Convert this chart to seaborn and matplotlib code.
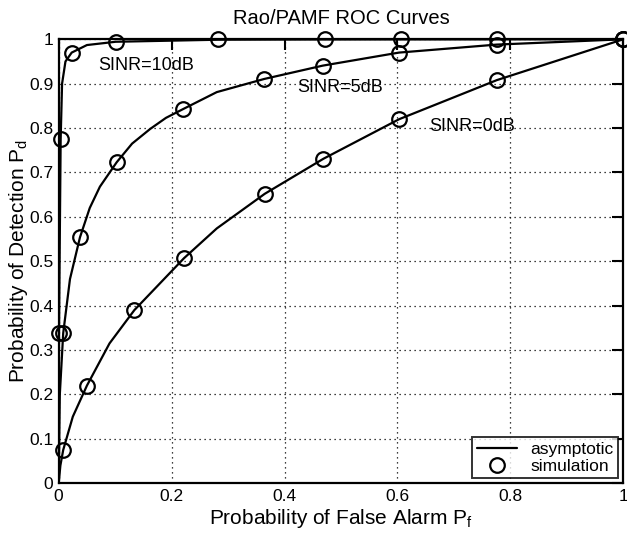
import matplotlib
matplotlib.use("Agg")
import matplotlib.pyplot as plt
import seaborn as sns
import pandas as pd

# Asymptotic ROC curves (Pf, Pd) for each SINR
pf_0db = [0.0, 0.003, 0.008, 0.025, 0.05, 0.09, 0.134, 0.222, 0.28, 0.365, 0.469, 0.603, 0.776, 1.0]
pd_0db = [0.0, 0.04, 0.075, 0.15, 0.22, 0.315, 0.39, 0.507, 0.574, 0.652, 0.731, 0.82, 0.908, 1.0]

pf_5db = [0.0, 0.002, 0.008, 0.02, 0.0377, 0.055, 0.073, 0.1027, 0.13, 0.162, 0.19, 0.2207, 0.28, 0.364, 0.4675, 0.6026, 0.7756, 1.0]
pd_5db = [0.0, 0.2, 0.338, 0.46, 0.554, 0.62, 0.668, 0.723, 0.765, 0.798, 0.823, 0.843, 0.881, 0.9106, 0.9406, 0.97, 0.988, 1.0]

pf_10db = [0.0, 0.0005, 0.0035, 0.006, 0.012, 0.023, 0.05, 0.101, 0.2826, 0.4716, 1.0]
pd_10db = [0.0, 0.338, 0.775, 0.90, 0.95, 0.97, 0.987, 0.9944, 0.999, 0.9995, 1.0]

# Monte Carlo simulation points
sim_pf_0db = [0.008, 0.0496, 0.134, 0.222, 0.365, 0.4686, 0.603, 0.7756, 1.0]
sim_pd_0db = [0.075, 0.22, 0.39, 0.507, 0.652, 0.731, 0.82, 0.908, 1.0]

sim_pf_5db = [0.008, 0.0377, 0.1027, 0.2207, 0.364, 0.4675, 0.6026, 0.7756, 1.0]
sim_pd_5db = [0.338, 0.554, 0.723, 0.843, 0.9106, 0.9406, 0.97, 0.988, 1.0]

sim_pf_10db = [0.0005, 0.0035, 0.023, 0.101, 0.2826, 0.4716, 0.6056, 0.7756, 1.0]
sim_pd_10db = [0.338, 0.775, 0.97, 0.9944, 0.9995, 1.0, 1.0, 1.0, 1.0]

x_ticks = [0, 0.2, 0.4, 0.6, 0.8, 1]
x_tick_labels = ["0", "0.2", "0.4", "0.6", "0.8", "1"]
y_ticks = [0, 0.1, 0.2, 0.3, 0.4, 0.5, 0.6, 0.7, 0.8, 0.9, 1]
y_tick_labels = ["0", "0.1", "0.2", "0.3", "0.4", "0.5", "0.6", "0.7", "0.8", "0.9", "1"]

curve_labels = ["SINR=0dB", "SINR=5dB", "SINR=10dB"]

curves = pd.concat([
    pd.DataFrame({"Pf": pf_0db, "Pd": pd_0db, "SINR": curve_labels[0]}),
    pd.DataFrame({"Pf": pf_5db, "Pd": pd_5db, "SINR": curve_labels[1]}),
    pd.DataFrame({"Pf": pf_10db, "Pd": pd_10db, "SINR": curve_labels[2]}),
], ignore_index=True)

sims = pd.concat([
    pd.DataFrame({"Pf": sim_pf_0db, "Pd": sim_pd_0db, "SINR": curve_labels[0]}),
    pd.DataFrame({"Pf": sim_pf_5db, "Pd": sim_pd_5db, "SINR": curve_labels[1]}),
    pd.DataFrame({"Pf": sim_pf_10db, "Pd": sim_pd_10db, "SINR": curve_labels[2]}),
], ignore_index=True)

sns.set_style("white")
plt.rcParams["font.family"] = ["Liberation Sans", "DejaVu Sans"]
plt.rcParams["mathtext.fontset"] = "custom"
plt.rcParams["mathtext.rm"] = "Liberation Sans"
for key in ["text.color", "axes.labelcolor", "xtick.color", "ytick.color", "axes.edgecolor"]:
    plt.rcParams[key] = "black"

fig = plt.figure(figsize=(6.27, 5.38), dpi=100)
ax = fig.add_axes([0.0936, 0.1017, 0.9005, 0.8253])

for i, lab in enumerate(curve_labels):
    sub = curves[curves["SINR"] == lab]
    sns.lineplot(data=sub, x="Pf", y="Pd", sort=False, estimator=None,
                 color="black", linewidth=1.6, ax=ax,
                 label="asymptotic" if i == 0 else None, zorder=3)

for i, lab in enumerate(curve_labels):
    sub = sims[sims["SINR"] == lab]
    ax.plot(sub["Pf"], sub["Pd"], linestyle="none", marker="o",
            markersize=10.5, markerfacecolor="none", markeredgecolor="black",
            markeredgewidth=1.6, label="simulation" if i == 0 else None,
            zorder=4, clip_on=False)

ax.set_xlim(0, 1)
ax.set_ylim(0, 1)
ax.set_xticks(x_ticks)
ax.set_xticklabels(x_tick_labels)
ax.set_yticks(y_ticks)
ax.set_yticklabels(y_tick_labels)

ax.grid(True, color="black", linestyle=(0, (1, 3)), linewidth=0.9)
ax.tick_params(direction="in", length=8, width=1.5, top=True, right=True,
               labelsize=12.5, pad=4, colors="black")
for s in ax.spines.values():
    s.set_linewidth(1.6)
    s.set_color("black")
    s.set_visible(True)

ax.set_title("Rao/PAMF ROC Curves", fontsize=14.5, pad=11)
ax.set_xlabel("Probability of False Alarm $\\mathregular{P_f}$", fontsize=15, labelpad=2)
ax.set_ylabel("Probability of Detection $\\mathregular{P_d}$", fontsize=15, labelpad=-1)

ax.text(0.07, 0.942, "SINR=10dB", fontsize=13, va="center", ha="left")
ax.text(0.422, 0.892, "SINR=5dB", fontsize=13, va="center", ha="left")
ax.text(0.656, 0.803, "SINR=0dB", fontsize=13, va="center", ha="left")

leg = ax.legend(loc="lower right", fontsize=12.5, frameon=True, fancybox=False,
                borderaxespad=0.3, handlelength=2.3, handletextpad=0.8,
                borderpad=0.25, labelspacing=0.1)
leg.get_frame().set_edgecolor("black")
leg.get_frame().set_linewidth(1.4)
leg.set_zorder(10)

fig.savefig("out.png", dpi=100, facecolor="white")
